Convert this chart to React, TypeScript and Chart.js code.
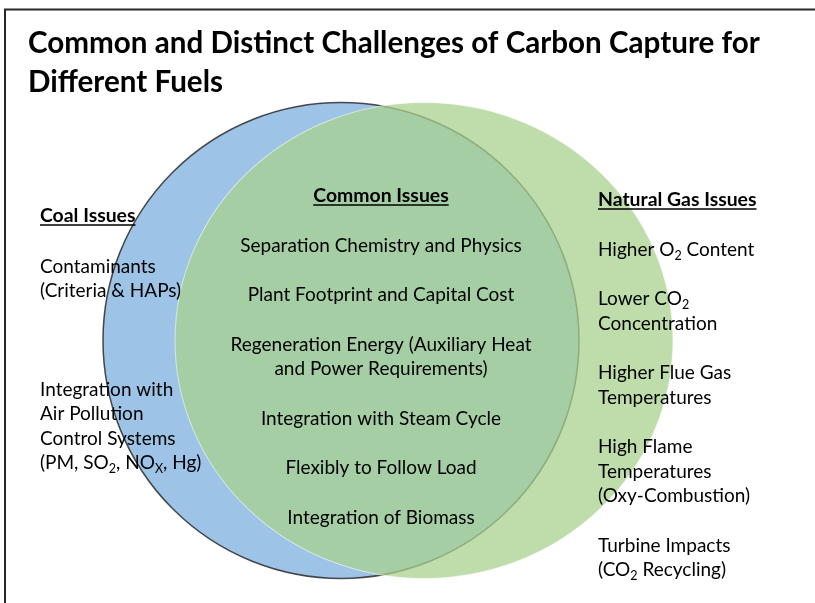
import React, { useEffect, useRef } from "react";
import { Chart, registerables } from "chart.js";

Chart.register(...registerables);

// ---------- DATA ----------
const titleLines = ["Common and Distinct Challenges of Carbon Capture for", "Different Fuels"];
const setHeaders = ["Coal Issues", "Common Issues", "Natural Gas Issues"];
const coalIssues = [
  ["Contaminants", "(Criteria & HAPs)"],
  ["Integration with", "Air Pollution", "Control Systems", "(PM, SO_{2}, NO_{X}, Hg)"],
];
const commonIssues = [
  ["Separation Chemistry and Physics"],
  ["Plant Footprint and Capital Cost"],
  ["Regeneration Energy (Auxiliary Heat", "and Power Requirements)"],
  ["Integration with Steam Cycle"],
  ["Flexibly to Follow Load"],
  ["Integration of Biomass"],
];
const gasIssues = [
  ["Higher O_{2} Content"],
  ["Lower CO_{2}", "Concentration"],
  ["Higher Flue Gas", "Temperatures"],
  ["High Flame", "Temperatures", "(Oxy-Combustion)"],
  ["Turbine Impacts", "(CO_{2} Recycling)"],
];

// Venn sets (diagram units)
const circleNames = ["Coal", "Natural Gas"];
const circleCenterX = [341, 424];
const circleCenterY = [340.5, 340.5];
const circleRadius = [238, 238];

// ---------- STYLE / LAYOUT ----------
const FONT = "Lato, 'Open Sans', sans-serif";
const fills = ["#9DC3E6", "rgba(169,209,142,0.74)"];
const borders = ["rgba(45,45,45,0.85)", "rgba(255,255,255,0.55)"];
const borderWidths = [1.5, 1];
const greenStretchX = 249 / 238;

const TITLE = { x: 28, ys: [42, 81], size: 29.6 };
const BODY_SIZE = 19;
const HEAD_SIZE = 19.4;
const LINE_H = 24.5;
const ITEM_GAP = 25;
const COLUMNS = [
  { items: coalIssues, align: "left", x: 40, headerY: 215, itemYs: [266, 389] as number[] | null, firstY: 266 },
  { items: commonIssues, align: "center", x: 381, headerY: 195, itemYs: null, firstY: 245 },
  { items: gasIssues, align: "left", x: 598, headerY: 199, itemYs: null, firstY: 249 },
];

function drawRich(ctx: CanvasRenderingContext2D, text: string, x: number, centerY: number, align: string, size: number, bold: boolean) {
  const parts = text.split(/_\{([^}]*)\}/);
  const w = bold ? "bold " : "";
  const normalFont = `${w}${size}px ${FONT}`;
  const subFont = `${w}${(size * 0.66).toFixed(2)}px ${FONT}`;
  const widths: number[] = parts.map((p, i) => {
    ctx.font = i % 2 === 1 ? subFont : normalFont;
    return ctx.measureText(p).width;
  });
  const total = widths.reduce((a, b) => a + b, 0);
  const x0 = align === "center" ? x - total / 2 : x;
  const baseline = centerY + size * 0.36;
  let cx = x0;
  ctx.textAlign = "left";
  ctx.textBaseline = "alphabetic";
  parts.forEach((p, i) => {
    const sub = i % 2 === 1;
    ctx.font = sub ? subFont : normalFont;
    ctx.fillText(p, cx, sub ? baseline + size * 0.2 : baseline);
    cx += widths[i];
  });
  return { x0, width: total, baseline };
}

const vennPlugin = {
  id: "vennText",
  beforeDatasetsDraw(chart: any) {
    const ctx = chart.ctx as CanvasRenderingContext2D;
    ctx.save();
    ctx.strokeStyle = "#262626";
    ctx.lineWidth = 2;
    ctx.beginPath();
    ctx.moveTo(5, chart.height + 5);
    ctx.lineTo(5, 9.5);
    ctx.lineTo(chart.width + 5, 9.5);
    ctx.stroke();
    ctx.restore();
  },
  beforeDatasetDraw(chart: any, args: any) {
    if (args.index !== 1) return;
    const ctx = chart.ctx as CanvasRenderingContext2D;
    const cx = chart.scales.x.getPixelForValue(circleCenterX[1]);
    const cy = chart.scales.y.getPixelForValue(circleCenterY[1]);
    ctx.save();
    ctx.translate(cx, cy);
    ctx.scale(greenStretchX, 1);
    ctx.translate(-cx, -cy);
  },
  afterDatasetDraw(chart: any, args: any) {
    if (args.index !== 1) return;
    chart.ctx.restore();
  },
  afterDatasetsDraw(chart: any) {
    const ctx = chart.ctx as CanvasRenderingContext2D;
    const sx = chart.scales.x;
    const sy = chart.scales.y;
    ctx.save();
    ctx.fillStyle = "#000";
    ctx.strokeStyle = "#000";
    titleLines.forEach((t, i) => {
      drawRich(ctx, t, sx.getPixelForValue(TITLE.x), sy.getPixelForValue(TITLE.ys[i]), "left", TITLE.size, true);
    });
    COLUMNS.forEach((col, ci) => {
      const hx = sx.getPixelForValue(col.x);
      const h = drawRich(ctx, setHeaders[ci], hx, sy.getPixelForValue(col.headerY), col.align, HEAD_SIZE, true);
      ctx.lineWidth = 1.4;
      ctx.beginPath();
      ctx.moveTo(h.x0, h.baseline + 3);
      ctx.lineTo(h.x0 + h.width, h.baseline + 3);
      ctx.stroke();
      let y = col.firstY;
      col.items.forEach((lines, ii) => {
        if (col.itemYs) y = col.itemYs[ii];
        lines.forEach((line, li) => {
          drawRich(ctx, line, hx, sy.getPixelForValue(y + li * LINE_H), col.align, BODY_SIZE, false);
        });
        y += lines.length * LINE_H + ITEM_GAP;
      });
    });
    ctx.restore();
  },
};

export default function App() {
  const ref = useRef<HTMLCanvasElement | null>(null);
  useEffect(() => {
    if (!ref.current) return;
    const chart = new Chart(ref.current, {
      type: "bubble",
      data: {
        datasets: circleNames.map((name, i) => ({
          label: name,
          data: [{ x: circleCenterX[i], y: circleCenterY[i], r: circleRadius[i] }],
          backgroundColor: fills[i],
          borderColor: borders[i],
          borderWidth: borderWidths[i],
          hoverRadius: 0,
          order: i === 0 ? 2 : 1,
          clip: false as any,
        })),
      },
      options: {
        responsive: false,
        animation: false,
        events: [],
        layout: { padding: 0, autoPadding: false },
        scales: {
          x: { type: "linear", min: 0, max: 815, display: false },
          y: { type: "linear", min: 0, max: 603, reverse: true, display: false },
        },
        plugins: { legend: { display: false }, tooltip: { enabled: false }, title: { display: false } },
      },
      plugins: [vennPlugin as any],
    });
    return () => chart.destroy();
  }, []);
  return (
    <div style={{ position: "fixed", left: 0, top: 0, width: 815, height: 603, background: "#fff" }}>
      <canvas ref={ref} width={815} height={603} style={{ display: "block" }} />
    </div>
  );
}
